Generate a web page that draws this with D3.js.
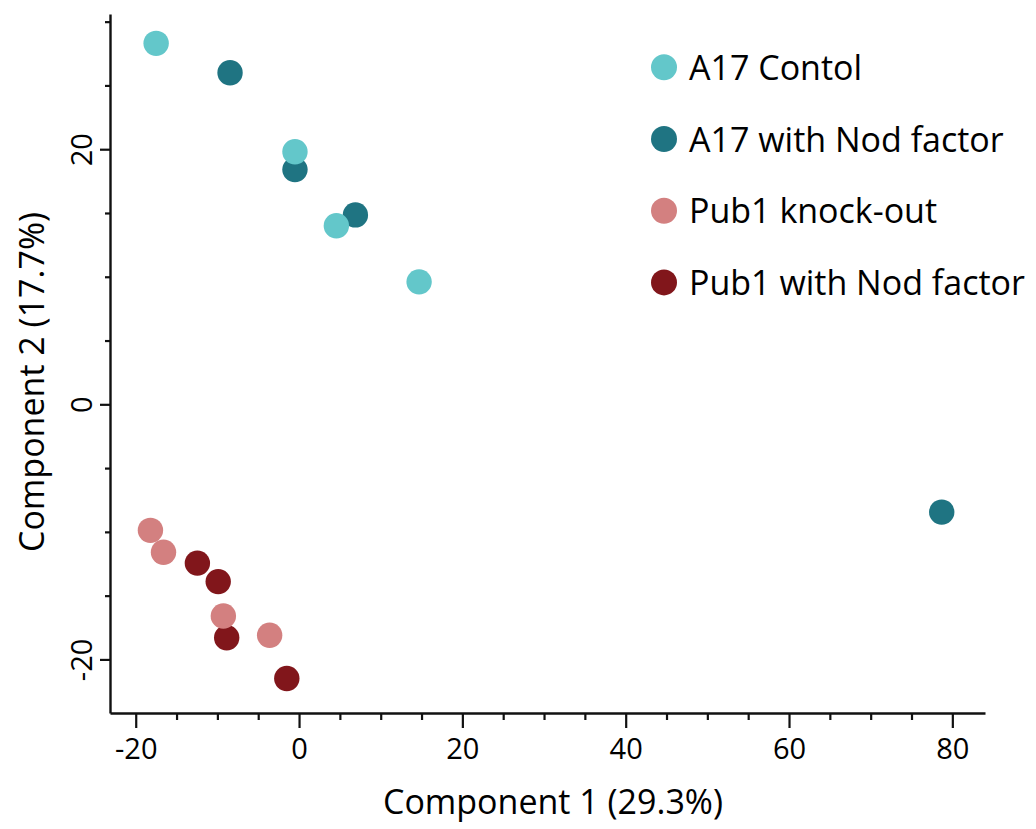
<!DOCTYPE html>
<html>
<head>
<meta charset="utf-8">
<script src="https://cdn.jsdelivr.net/npm/d3@7"></script>
<style>
  html, body { margin: 0; padding: 0; background: #fff; }
  svg text { font-family: "Open Sans", "Noto Sans", sans-serif; fill: #000; }
</style>
</head>
<body>
<svg id="chart" width="1036" height="829"></svg>
<script>
// PCA scores per sample group (Component 1, Component 2)
const groupNames = ["A17 Contol", "A17 with Nod factor", "Pub1 knock-out", "Pub1 with Nod factor"];
const groupColors = ["#63c7ca", "#1f7482", "#d38080", "#81161b"];

const a17ControlX = [-17.5, -0.5, 4.57, 14.7];
const a17ControlY = [28.3, 19.8, 14.0, 9.6];
const a17NodX = [-8.45, -0.5, 6.9, 78.7];
const a17NodY = [26.0, 18.4, 14.85, -8.45];
const pub1KoX = [-18.2, -16.6, -9.27, -3.6];
const pub1KoY = [-9.88, -11.6, -16.6, -18.1];
const pub1NodX = [-12.45, -9.9, -8.86, -1.5];
const pub1NodY = [-12.45, -13.9, -18.3, -21.5];

const xMajorTicks = [-20, 0, 20, 40, 60, 80];
const xMinorTicks = [-15, -10, -5, 5, 10, 15, 25, 30, 35, 45, 50, 55, 65, 70, 75];
const yMajorTicks = [-20, 0, 20];
const yMinorTicks = [-15, -10, -5, 5, 10, 15, 25, 30];

const xTitle = "Component 1 (29.3%)";
const yTitle = "Component 2 (17.7%)";

const series = [
  { name: groupNames[0], color: groupColors[0], xs: a17ControlX, ys: a17ControlY },
  { name: groupNames[1], color: groupColors[1], xs: a17NodX, ys: a17NodY },
  { name: groupNames[2], color: groupColors[2], xs: pub1KoX, ys: pub1KoY },
  { name: groupNames[3], color: groupColors[3], xs: pub1NodX, ys: pub1NodY }
];
// drawing order: Nod-factor groups underneath
const drawOrder = [1, 0, 3, 2];

const svg = d3.select("#chart");
const margin = { left: 110, top: 14, right: 51, bottom: 116 };
const W = 1036, H = 829;

const x = d3.scaleLinear().domain([-23.15, 84.0]).range([margin.left, W - margin.right]);
const y = d3.scaleLinear().domain([-24.2, 30.6]).range([H - margin.bottom, margin.top]);

const axisColor = "#111";

// X axis
const gx = svg.append("g").attr("transform", `translate(0,${H - margin.bottom})`);
gx.call(d3.axisBottom(x).tickValues(xMinorTicks).tickSize(7).tickFormat(""));
gx.call(g => g.select(".domain").remove());
const gxMajor = svg.append("g").attr("transform", `translate(0,${H - margin.bottom})`)
  .call(d3.axisBottom(x).tickValues(xMajorTicks).tickSize(15).tickSizeOuter(0).tickPadding(10)
    .tickFormat(d => String(d)));
gxMajor.select(".domain").attr("stroke-width", 2.4).attr("stroke", axisColor);
gxMajor.selectAll("text").attr("font-size", 29).attr("font-family", "'Open Sans', sans-serif");

// Y axis
const gy = svg.append("g").attr("transform", `translate(${margin.left},0)`);
gy.call(d3.axisLeft(y).tickValues(yMinorTicks).tickSize(5).tickFormat(""));
gy.call(g => g.select(".domain").remove());
const gyMajor = svg.append("g").attr("transform", `translate(${margin.left},0)`)
  .call(d3.axisLeft(y).tickValues(yMajorTicks).tickSize(10).tickSizeOuter(0)
    .tickFormat(d => String(d)));
gyMajor.select(".domain").attr("stroke-width", 2.4).attr("stroke", axisColor);
gyMajor.selectAll("text")
  .attr("font-size", 29)
  .attr("font-family", "'Open Sans', sans-serif")
  .attr("x", null).attr("dy", null)
  .attr("text-anchor", "middle")
  .attr("transform", "translate(-18,0) rotate(-90)");

svg.selectAll(".tick line").attr("stroke-width", 2.2).attr("stroke", axisColor);
svg.selectAll(".tick text").attr("fill", "#000");

// Axis titles
svg.append("text")
  .attr("x", 553).attr("y", 814)
  .attr("text-anchor", "middle")
  .attr("font-size", 34)
  .text(xTitle);

svg.append("text")
  .attr("transform", `translate(44,${382}) rotate(-90)`)
  .attr("text-anchor", "middle")
  .attr("font-size", 34)
  .text(yTitle);

// Points
const pts = [];
drawOrder.forEach(si => {
  const s = series[si];
  s.xs.forEach((v, i) => pts.push({ x: v, y: s.ys[i], color: s.color }));
});
svg.append("g").selectAll("circle").data(pts).join("circle")
  .attr("cx", d => x(d.x))
  .attr("cy", d => y(d.y))
  .attr("r", 12.7)
  .attr("fill", d => d.color);

// Legend
const legend = svg.append("g").attr("transform", "translate(664,67.3)");
const item = legend.selectAll("g").data(series).join("g")
  .attr("transform", (d, i) => `translate(0,${i * 71.7})`);
item.append("circle").attr("r", 13).attr("fill", d => d.color);
item.append("text")
  .attr("x", 25).attr("y", 12.5)
  .attr("font-size", 34)
  .text(d => d.name);
</script>
</body>
</html>
